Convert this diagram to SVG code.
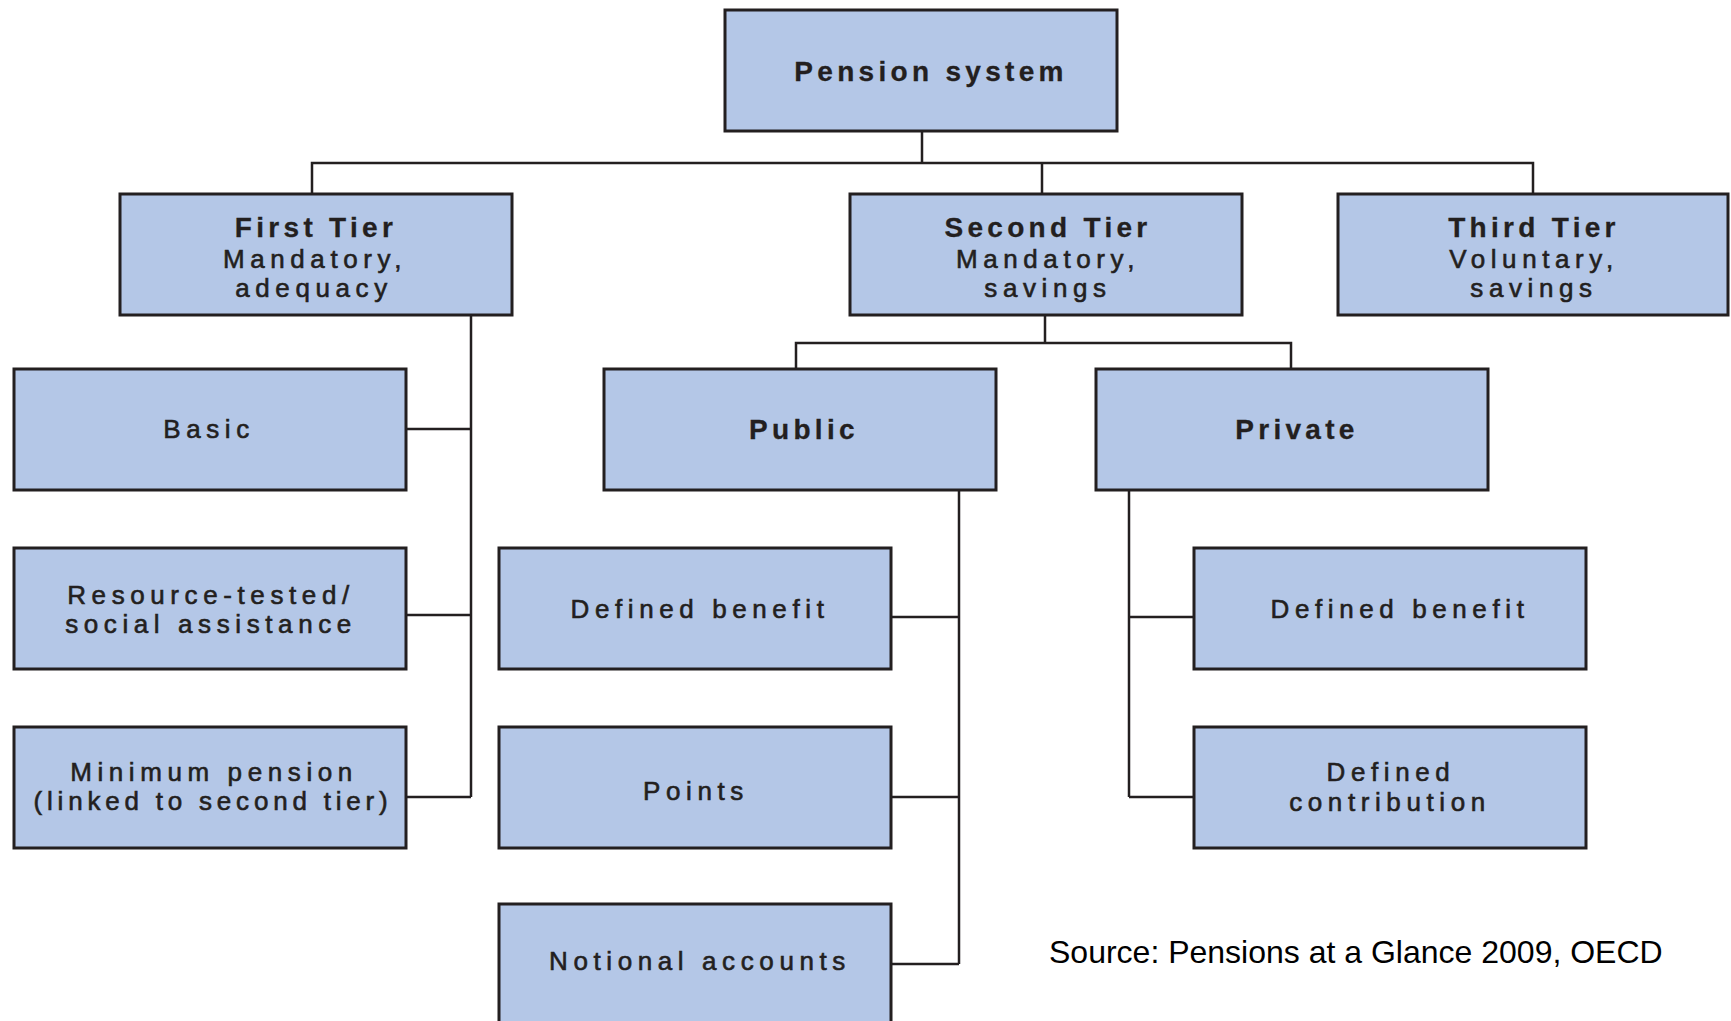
<svg xmlns="http://www.w3.org/2000/svg" width="1731" height="1021" viewBox="0 0 1731 1021">
<style>
.box{fill:#b4c7e7;stroke:#231f20;stroke-width:3}
.conn{fill:none;stroke:#231f20;stroke-width:2.5}
.h{font-family:"Liberation Sans",Arial,sans-serif;font-weight:bold;font-size:28px;letter-spacing:4.3px;fill:#231f20;stroke:#231f20;stroke-width:0.3;text-anchor:middle}
.t{font-family:"Liberation Sans",Arial,sans-serif;font-size:26px;letter-spacing:5.6px;fill:#231f20;stroke:#231f20;stroke-width:0.6;text-anchor:middle}
.src{font-family:"Liberation Sans",Arial,sans-serif;font-size:32px;fill:#000}
</style>
<rect width="1731" height="1021" fill="#fff"/>
<g id="connectors">
<path class="conn" d="M922 132V163M312 194V163H1533V194M1042 163V194"/>
<path class="conn" d="M471 316V797M407 429H471M407 615H471M407 797H471"/>
<path class="conn" d="M1045 316V343M796 369V343H1291V369"/>
<path class="conn" d="M959 487V964M892 617H959M892 797H959M892 964H959"/>
<path class="conn" d="M1129 490V797M1129 617H1196M1129 797H1196"/>
</g>
<g id="pension-system"><rect class="box" x="725" y="10" width="392" height="121"/><text class="h" x="931" y="81">Pension system</text></g>
<g id="first-tier"><rect class="box" x="120" y="194" width="392" height="121"/><text class="h" x="316" y="237">First Tier</text><text class="t" x="315" y="268">Mandatory,</text><text class="t" x="314" y="297">adequacy</text></g>
<g id="second-tier"><rect class="box" x="850" y="194" width="392" height="121"/><text class="h" x="1048" y="237">Second Tier</text><text class="t" x="1048" y="268">Mandatory,</text><text class="t" x="1048" y="297">savings</text></g>
<g id="third-tier"><rect class="box" x="1338" y="194" width="390" height="121"/><text class="h" x="1534" y="237">Third Tier</text><text class="t" x="1534" y="268">Voluntary,</text><text class="t" x="1534" y="297">savings</text></g>
<g id="basic"><rect class="box" x="14" y="369" width="392" height="121"/><text class="t" x="209" y="438">Basic</text></g>
<g id="public"><rect class="box" x="604" y="369" width="392" height="121"/><text class="h" x="804" y="439">Public</text></g>
<g id="private"><rect class="box" x="1096" y="369" width="392" height="121"/><text class="h" x="1297" y="439">Private</text></g>
<g id="resource-tested"><rect class="box" x="14" y="548" width="392" height="121"/><text class="t" x="211" y="604">Resource-tested/</text><text class="t" x="211" y="633">social assistance</text></g>
<g id="db-public"><rect class="box" x="499" y="548" width="392" height="121"/><text class="t" x="700" y="618">Defined benefit</text></g>
<g id="db-private"><rect class="box" x="1194" y="548" width="392" height="121"/><text class="t" x="1400" y="618">Defined benefit</text></g>
<g id="minimum-pension"><rect class="box" x="14" y="727" width="392" height="121"/><text class="t" x="214" y="781">Minimum pension</text><text class="t" x="213" y="810" style="letter-spacing:4.8px">(linked to second tier)</text></g>
<g id="points"><rect class="box" x="499" y="727" width="392" height="121"/><text class="t" x="696" y="800">Points</text></g>
<g id="defined-contribution"><rect class="box" x="1194" y="727" width="392" height="121"/><text class="t" x="1391" y="781">Defined</text><text class="t" x="1390" y="811">contribution</text></g>
<g id="notional-accounts"><rect class="box" x="499" y="904" width="392" height="140"/><text class="t" x="700" y="970">Notional accounts</text></g>
<text class="src" x="1049" y="963">Source: Pensions at a Glance 2009, OECD</text>
</svg>
